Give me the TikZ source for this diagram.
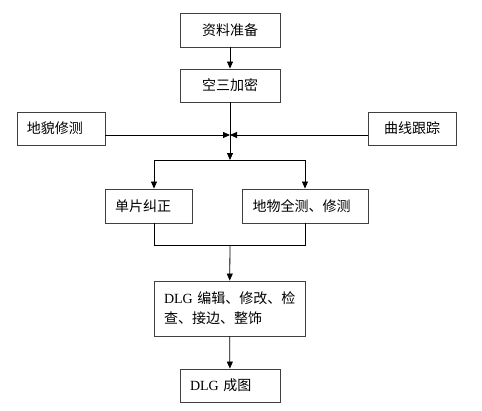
\documentclass[tikz,border=0pt]{standalone}
\usepackage{fontspec}
\setmainfont{Liberation Serif}
\newfontfamily\cjk{Noto Sans CJK SC}
\usetikzlibrary{arrows.meta,positioning,calc}
\definecolor{frame}{HTML}{404040}

\tikzset{
  box/.style={draw=frame, line width=0.9pt, inner xsep=10pt, inner ysep=0pt,
              font=\fontsize{14}{20}\selectfont, align=left},
  link/.style={line width=0.8pt, black},
  flow/.style={link, -{Triangle[length=7pt, width=6pt]}}
}

\begin{document}
\begin{tikzpicture}[x=1pt, y=-1pt]
  \useasboundingbox (0,0) rectangle (482,410);
  % boxes (centre, width, height)
  \node[box, align=center, text width=80pt, minimum height=34pt] (prep)    at (230,30)    {\cjk 资料准备};
  \node[box, align=center, text width=80pt, minimum height=33pt] (aero)    at (230,85.5)  {\cjk 空三加密};
  \node[box, text width=68pt, minimum height=33pt]               (relief)  at (61,128.5)  {\cjk 地貌修测};
  \node[box, align=center, text width=68pt, minimum height=33pt] (curve)   at (412,128.5) {\cjk 曲线跟踪};
  \node[box, text width=67pt, minimum height=34pt]               (rect)    at (148.5,206) {\cjk 单片纠正};
  \node[box, text width=105pt, minimum height=34pt, inner xsep=10.5pt] (feature) at (305,206) {\cjk 地物全测、修测};
  \node[box, text width=131pt, minimum height=55pt] (edit) at (229.5,308.5)
        {\mbox{DLG {\cjk 编辑、修改、检}}\\{\cjk 查、接边、整饰}};
  \node[box, text width=80pt, minimum height=33pt]               (final)   at (230,385.5) {DLG {\cjk 成图}};
  % junction points
  \coordinate (meet)  at (230,135);
  \coordinate (split) at (230,160);
  \coordinate (join)  at (230,245);
  \coordinate (sl) at (154,160);
  \coordinate (sr) at (305,160);
  \coordinate (jl) at (154,245);
  \coordinate (jr) at (305,245);
  % connectors
  \draw[flow] (prep) -- (aero);
  \draw[flow] (aero) -- (split);
  \draw[flow] (relief.east |- meet) -- (meet);
  \draw[flow] (curve.west |- meet) -- (meet);
  \draw[link] (sl) -- (sr);
  \draw[flow] (sl) -- (sl |- rect.north);
  \draw[flow] (sr) -- (feature.north);
  \draw[link] (jl |- rect.south) -- (jl) -- (jr) -- (feature.south);
  \draw[flow] (join) -- (edit);
  \draw[flow] (edit) -- (final);
\end{tikzpicture}
\end{document}
